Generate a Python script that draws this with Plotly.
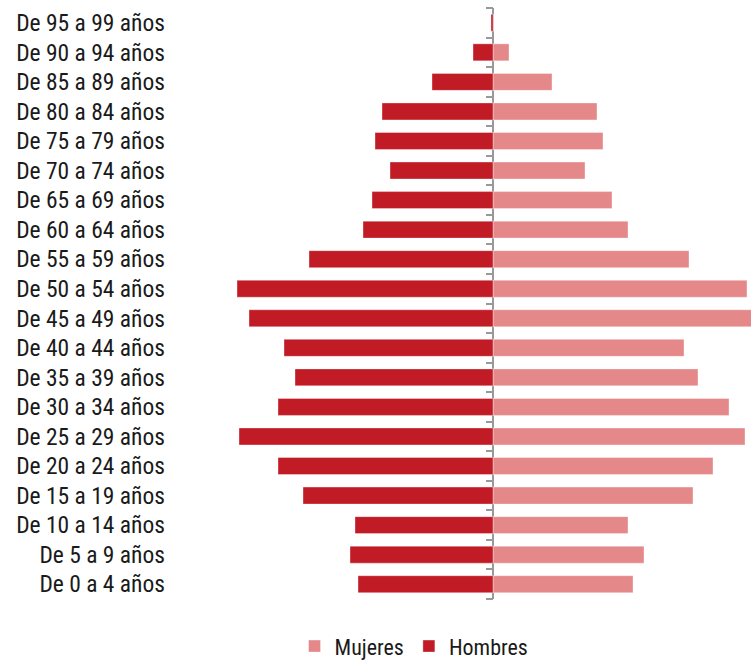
import plotly.graph_objects as go

categorias = ["De 0 a 4 años", "De 5 a 9 años", "De 10 a 14 años", "De 15 a 19 años",
              "De 20 a 24 años", "De 25 a 29 años", "De 30 a 34 años", "De 35 a 39 años",
              "De 40 a 44 años", "De 45 a 49 años", "De 50 a 54 años", "De 55 a 59 años",
              "De 60 a 64 años", "De 65 a 69 años", "De 70 a 74 años", "De 75 a 79 años",
              "De 80 a 84 años", "De 85 a 89 años", "De 90 a 94 años", "De 95 a 99 años"]

hombres = [135, 143, 138, 190, 215, 254, 215, 198, 209, 244, 256, 184,
           130, 121, 103, 118, 111, 61, 20, 2]
mujeres = [140, 151, 135, 200, 220, 252, 236, 205, 191, 262, 254, 196,
           135, 119, 92, 110, 104, 59, 16, 0.6]

hombres_neg = [-v for v in hombres]

FONT = "Roboto Condensed, sans-serif"
C_H = "#C11B26"
C_M = "#E4888A"

fig = go.Figure()
fig.add_trace(go.Bar(y=categorias, x=mujeres, orientation="h", name="Mujeres",
                     marker=dict(color=C_M, line=dict(width=0.6, color="rgba(255,255,255,0.6)"))))
fig.add_trace(go.Bar(y=categorias, x=hombres_neg, orientation="h", name="Hombres",
                     marker=dict(color=C_H, line=dict(width=0.6, color="rgba(255,255,255,0.6)"))))
fig.add_trace(go.Scatter(y=categorias, x=[0] * len(categorias), yaxis="y2", mode="markers",
                         marker=dict(opacity=0), showlegend=False, hoverinfo="skip"))

x_min, x_max = -318, 258
pos0 = -x_min / (x_max - x_min)

fig.update_layout(
    width=751, height=663,
    margin=dict(l=175, r=0, t=8, b=64, autoexpand=False),
    paper_bgcolor="white", plot_bgcolor="white",
    barmode="overlay", bargap=0.425,
    font=dict(family=FONT, size=23.5, color="#1a1a1a"),
    xaxis=dict(range=[x_min, x_max], showticklabels=False, showgrid=False, ticks="",
               zeroline=True, zerolinecolor="#999999", zerolinewidth=2, fixedrange=True),
    yaxis=dict(type="category", categoryorder="array", categoryarray=categorias,
               range=[-0.5, len(categorias) - 0.5], showgrid=False, ticks="",
               ticklabelstandoff=9, tickfont=dict(family=FONT, size=23.5, color="#1a1a1a")),
    yaxis2=dict(type="category", categoryorder="array", categoryarray=categorias,
                range=[-0.5, len(categorias) - 0.5], overlaying="y", anchor="free",
                position=pos0, side="left", showgrid=False, showticklabels=False,
                ticks="outside", ticklen=7, tickwidth=2, tickcolor="#999999",
                tickson="boundaries", showline=False),
    legend=dict(orientation="h", x=0.415, xanchor="center", y=-0.08, yanchor="middle",
                font=dict(family=FONT, size=22, color="#1a1a1a"),
                traceorder="normal", itemwidth=30, tracegroupgap=0),
    showlegend=True,
)

fig.write_html("out.html")
